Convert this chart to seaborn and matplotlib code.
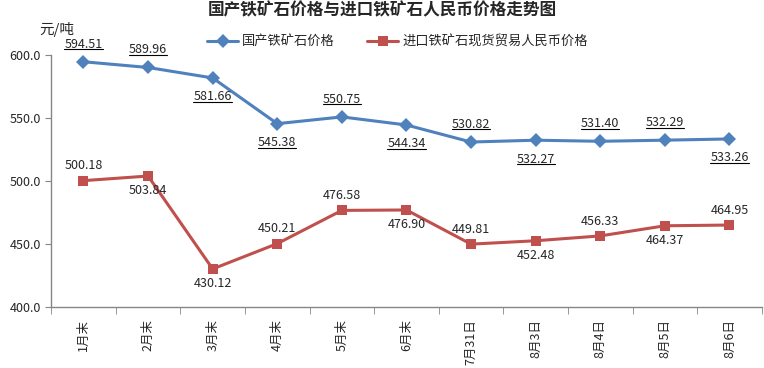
import numpy as np
import pandas as pd
import matplotlib
matplotlib.use("Agg")
import matplotlib.pyplot as plt
from matplotlib.lines import Line2D
import seaborn as sns

sns.set_style("white")
plt.rcParams["font.family"] = ["Noto Sans CJK SC", "DejaVu Sans"]

# DATA
dates = ["1月末", "2月末", "3月末", "4月末", "5月末", "6月末",
         "7月31日", "8月3日", "8月4日", "8月5日", "8月6日"]
domestic = [594.51, 589.96, 581.66, 545.38, 550.75, 544.34,
            530.82, 532.27, 531.40, 532.29, 533.26]
imported = [500.18, 503.84, 430.12, 450.21, 476.58, 476.90,
            449.81, 452.48, 456.33, 464.37, 464.95]
domestic_pos = ["up", "up", "down", "down", "up", "down",
                "up", "down", "up", "up", "down"]
imported_pos = ["up", "down", "down", "up", "up", "down",
                "up", "down", "up", "down", "up"]

name_dom = "国产铁矿石价格"
name_imp = "进口铁矿石现货贸易人民币价格"

df = pd.DataFrame({
    "idx": list(range(len(dates))) * 2,
    "price": domestic + imported,
    "series": [name_dom] * len(dates) + [name_imp] * len(dates),
})

blue = "#4F81BD"
red = "#C0504D"

fig = plt.figure(figsize=(7.64, 3.68), dpi=100)
ax = fig.add_axes([0.067, 0.166, 0.93, 0.685])

sns.lineplot(data=df, x="idx", y="price", hue="series", style="series",
             palette={name_dom: blue, name_imp: red},
             markers={name_dom: "D", name_imp: "s"},
             dashes=False, linewidth=2.2, markersize=7,
             markeredgewidth=0, ax=ax)

# data labels
dom_texts = []
for i, v in enumerate(domestic):
    dy = 8 if domestic_pos[i] == "up" else -9
    t = ax.annotate("%.2f" % v, (i, v), xytext=(0, dy),
                    textcoords="offset points", ha="center",
                    va="bottom" if dy > 0 else "top", fontsize=9,
                    annotation_clip=False)
    dom_texts.append(t)
for i, v in enumerate(imported):
    dy = 6 if imported_pos[i] == "up" else -6
    ax.annotate("%.2f" % v, (i, v), xytext=(0, dy),
                textcoords="offset points", ha="center",
                va="bottom" if dy > 0 else "top", fontsize=9,
                annotation_clip=False)

ax.set_xlim(-0.5, len(dates) - 0.5)
ax.set_ylim(400, 600)
ax.set_yticks([400, 450, 500, 550, 600])
ax.set_yticklabels(["%.1f" % t for t in [400, 450, 500, 550, 600]], fontsize=9)
ax.set_xticks(range(len(dates)))
ax.set_xticklabels(dates, rotation=90, fontsize=9)
ax.set_xticks(np.arange(-0.5, len(dates)), minor=True)
ax.tick_params(axis="x", which="major", length=0, pad=9)
ax.tick_params(axis="x", which="minor", length=5, color="#868686", direction="out", bottom=True)
ax.tick_params(axis="y", length=4, color="#868686", direction="out", left=True)
ax.set_xlabel("")
ax.set_ylabel("")
for s in ["top", "right"]:
    ax.spines[s].set_visible(False)
for s in ["left", "bottom"]:
    ax.spines[s].set_color("#868686")
    ax.spines[s].set_linewidth(1)

fig.text(0.5, 0.995, "国产铁矿石价格与进口铁矿石人民币价格走势图",
         ha="center", va="top", fontsize=12, fontweight="bold")
fig.text(0.052, 0.94, "元/吨", ha="left", va="top", fontsize=10.5)

handles, labels = ax.get_legend_handles_labels()
ax.get_legend().remove()
fig.legend(handles, labels, loc="center", bbox_to_anchor=(0.52, 0.886), ncol=2,
           frameon=False, fontsize=9.5, handlelength=2.4, columnspacing=2.4,
           handletextpad=0.3)

# underline the domestic labels
fig.canvas.draw()
r = fig.canvas.get_renderer()
W, H = fig.bbox.width, fig.bbox.height
for t in dom_texts:
    bb = t.get_window_extent(r)
    y = (bb.y0 + 1.5) / H
    fig.add_artist(Line2D([bb.x0 / W, bb.x1 / W], [y, y], color="black",
                          linewidth=0.8, transform=fig.transFigure))

fig.savefig("out.png", dpi=100)
